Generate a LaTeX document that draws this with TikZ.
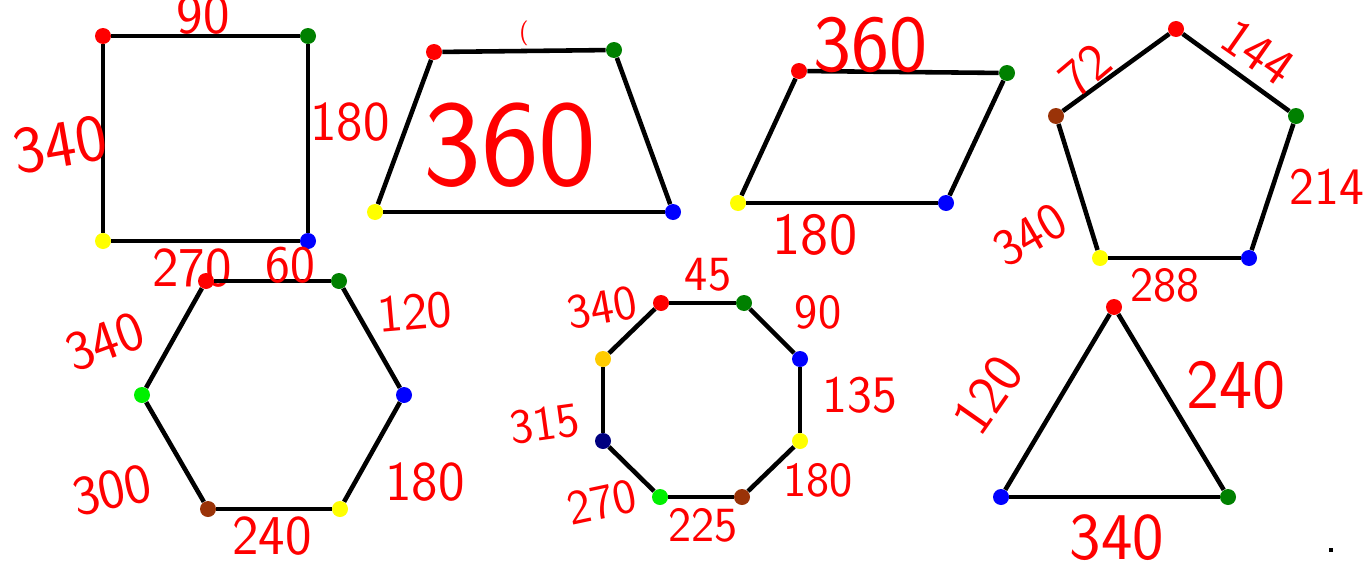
\documentclass[tikz,border=0pt]{standalone}
\usepackage{fontspec}
\usetikzlibrary{positioning}
\definecolor{pen}{HTML}{FF0000}
\definecolor{vred}{HTML}{FF0000}
\definecolor{vgreen}{HTML}{008000}
\definecolor{vblue}{HTML}{0000FF}
\definecolor{vyellow}{HTML}{FFFF00}
\definecolor{vbrown}{HTML}{9A3308}
\definecolor{vlime}{HTML}{00F000}
\definecolor{vnavy}{HTML}{000080}
\definecolor{vgold}{HTML}{FFCC00}

\begin{document}
\begin{tikzpicture}[x=0.02cm, y=-0.02cm,
  dot/.style={circle, fill=#1, inner sep=0pt, minimum size=0.32cm},
  side/.style={line width=2.6pt, black},
  num/.style={text=pen, inner sep=0pt, font=\sffamily\fontsize{#1}{#1}\selectfont},
  num/.default=30]
  \useasboundingbox (0,0) rectangle (1371,561);
  % Square
  \node[dot=vred] (sq1) at (103,36) {};
  \node[dot=vgreen] (sq2) at (308,36) {};
  \node[dot=vblue] (sq3) at (308,241) {};
  \node[dot=vyellow] (sq4) at (103,241) {};
  \draw[side] (sq1) -- (sq2);
  \draw[side] (sq2) -- (sq3);
  \draw[side] (sq3) -- (sq4);
  \draw[side] (sq4) -- (sq1);
  \node[num=32] (sqa) at (203,15) {90};
  \node[num=32] (sqb) at (350,122) {180};
  \node[num=32] (sqc) at (192,268) {270};
  \node[num=38, rotate=10] (sqd) at (60,145) {340};
  % Trapezoid
  \node[dot=vred] (tz1) at (434,52) {};
  \node[dot=vgreen] (tz2) at (614,50) {};
  \node[dot=vblue] (tz3) at (673,212) {};
  \node[dot=vyellow] (tz4) at (375,212) {};
  \draw[side] (tz1) -- (tz2);
  \draw[side] (tz2) -- (tz3);
  \draw[side] (tz3) -- (tz4);
  \draw[side] (tz4) -- (tz1);
  \node[num=70] (tza) at (510,145) {360};
  \node[num=14] (tzb) at (524,33) {(};
  % Parallelogram
  \node[dot=vred] (pg1) at (799,71) {};
  \node[dot=vgreen] (pg2) at (1007,73) {};
  \node[dot=vblue] (pg3) at (946,203) {};
  \node[dot=vyellow] (pg4) at (738,203) {};
  \draw[side] (pg1) -- (pg2);
  \draw[side] (pg2) -- (pg3);
  \draw[side] (pg3) -- (pg4);
  \draw[side] (pg4) -- (pg1);
  \node[num=46] (pga) at (870,45) {360};
  \node[num=34] (pgb) at (815,235) {180};
  % Pentagon
  \node[dot=vred] (pt1) at (1176,29) {};
  \node[dot=vgreen] (pt2) at (1296,116) {};
  \node[dot=vblue] (pt3) at (1249,258) {};
  \node[dot=vyellow] (pt4) at (1100,258) {};
  \node[dot=vbrown] (pt5) at (1056,116) {};
  \draw[side] (pt1) -- (pt2);
  \draw[side] (pt2) -- (pt3);
  \draw[side] (pt3) -- (pt4);
  \draw[side] (pt4) -- (pt5);
  \draw[side] (pt5) -- (pt1);
  \node[num, rotate=40] (pta) at (1085,70) {72};
  \node[num, rotate=-35] (ptb) at (1258,52) {144};
  \node[num] (ptc) at (1327,187) {214};
  \node[num=28] (ptd) at (1165,285) {288};
  \node[num, rotate=30] (pte) at (1030,235) {340};
  % Hexagon
  \node[dot=vred] (hx1) at (206,281) {};
  \node[dot=vgreen] (hx2) at (339,281) {};
  \node[dot=vblue] (hx3) at (404,395) {};
  \node[dot=vyellow] (hx4) at (340,509) {};
  \node[dot=vbrown] (hx5) at (208,509) {};
  \node[dot=vlime] (hx6) at (142,395) {};
  \draw[side] (hx1) -- (hx2);
  \draw[side] (hx2) -- (hx3);
  \draw[side] (hx3) -- (hx4);
  \draw[side] (hx4) -- (hx5);
  \draw[side] (hx5) -- (hx6);
  \draw[side] (hx6) -- (hx1);
  \node[num] (hxa) at (290,265) {60};
  \node[num, rotate=5] (hxb) at (415,312) {120};
  \node[num=32] (hxc) at (425,482) {180};
  \node[num=32] (hxd) at (272,536) {240};
  \node[num=32, rotate=12] (hxe) at (112,490) {300};
  \node[num=32, rotate=20] (hxf) at (105,342) {340};
  % Octagon
  \node[dot=vred] (oc1) at (661,303) {};
  \node[dot=vgreen] (oc2) at (744,303) {};
  \node[dot=vblue] (oc3) at (800,359) {};
  \node[dot=vyellow] (oc4) at (800,441) {};
  \node[dot=vbrown] (oc5) at (742,497) {};
  \node[dot=vlime] (oc6) at (660,497) {};
  \node[dot=vnavy] (oc7) at (603,441) {};
  \node[dot=vgold] (oc8) at (603,359) {};
  \draw[side] (oc1) -- (oc2);
  \draw[side] (oc2) -- (oc3);
  \draw[side] (oc3) -- (oc4);
  \draw[side] (oc4) -- (oc5);
  \draw[side] (oc5) -- (oc6);
  \draw[side] (oc6) -- (oc7);
  \draw[side] (oc7) -- (oc8);
  \draw[side] (oc8) -- (oc1);
  \node[num=28] (oca) at (708,275) {45};
  \node[num=28] (ocb) at (818,312) {90};
  \node[num] (occ) at (860,395) {135};
  \node[num=28] (ocd) at (818,480) {180};
  \node[num=28] (oce) at (703,525) {225};
  \node[num=28, rotate=12] (ocf) at (602,502) {270};
  \node[num=28, rotate=8] (ocg) at (545,424) {315};
  \node[num=28, rotate=10] (och) at (602,308) {340};
  % Triangle
  \node[dot=vred] (tr1) at (1114,307) {};
  \node[dot=vgreen] (tr2) at (1228,497) {};
  \node[dot=vblue] (tr3) at (1001,497) {};
  \draw[side] (tr1) -- (tr2);
  \draw[side] (tr2) -- (tr3);
  \draw[side] (tr3) -- (tr1);
  \node[num=32, rotate=55] (tra) at (988,395) {120};
  \node[num=40] (trb) at (1236,385) {240};
  \node[num=38] (trc) at (1117,538) {340};
  % stray mark
  \node[fill=black, inner sep=0pt, minimum size=2pt] (spot) at (1331,550) {};
\end{tikzpicture}
\end{document}
